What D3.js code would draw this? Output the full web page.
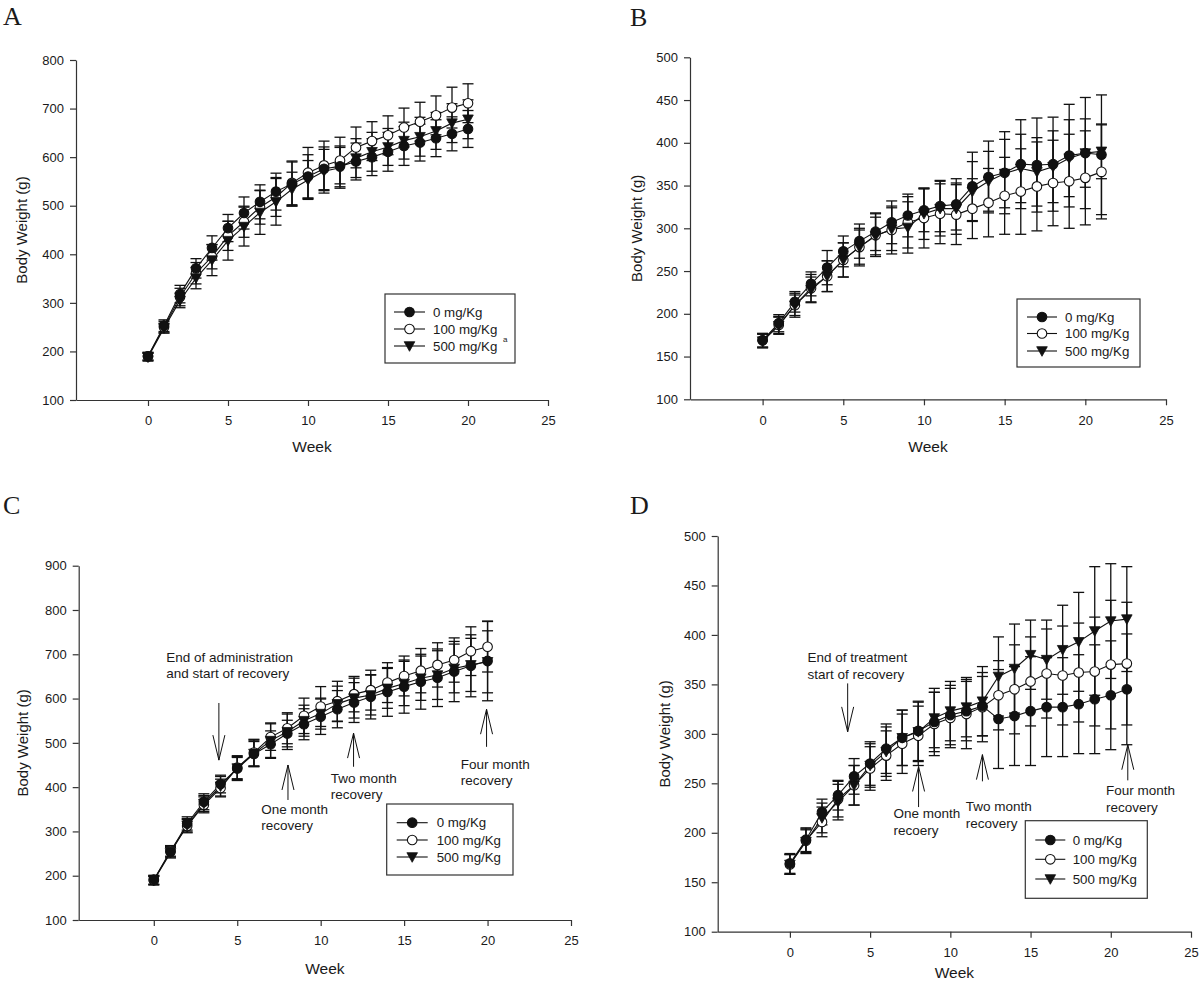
<!DOCTYPE html>
<html><head><meta charset="utf-8">
<script src="https://cdn.jsdelivr.net/npm/d3@7"></script>
<style>
body{margin:0;background:#fff}
svg{display:block}
text{font-family:"Liberation Sans",Arial,Helvetica,sans-serif;fill:#1a1a1a}
</style></head><body>
<svg id="chart" width="1200" height="985"></svg>
<script>
// ---------------- DATA ----------------
const seriesNames = ["0 mg/Kg", "100 mg/Kg", "500 mg/Kg"];
const xTicks = [0, 5, 10, 15, 20, 25];

// Panel A
const weeksA = [0,1,2,3,4,5,6,7,8,9,10,11,12,13,14,15,16,17,18,19,20];
const a0   = [190,253,318,371,413,454,485,508,529,545,560,576,581,591,600,611,623,630,639,648,658];
const a100 = [190,250,312,361,395,438,467,497,518,547,568,583,593,620,633,645,661,673,686,702,711];
const a500 = [188,248,305,351,388,428,457,486,508,534,553,571,578,598,611,621,634,642,654,670,678];
const a0sd   = [8,12,18,20,25,28,33,35,38,45,45,45,42,38,38,40,40,38,38,35,38];
const a100sd = [8,12,18,22,25,30,32,35,40,45,52,50,48,42,40,40,40,40,40,42,40];
const a500sd = [8,10,15,22,32,40,40,45,48,35,40,45,42,40,40,38,38,40,38,40,40];

// Panel B
const weeksB = [0,1,2,3,4,5,6,7,8,9,10,11,12,13,14,15,16,17,18,19,20,21];
const b0   = [169,189,214,235,254,273,285,296,307,315,321,326,328,349,360,365,375,374,375,385,388,386];
const b100 = [169,187,210,230,244,263,278,292,298,307,312,317,316,323,330,338,343,349,353,355,359,366];
const b500 = [168,186,210,228,244,263,278,291,299,301,317,323,323,343,355,364,370,366,372,382,388,390];
const b0sd   = [8,10,12,14,20,18,20,22,25,25,25,30,30,40,42,48,52,55,55,60,65,70];
const b100sd = [8,10,14,16,18,20,22,25,28,30,35,35,35,35,40,45,50,52,50,55,55,55];
const b500sd = [8,10,12,15,18,20,20,22,25,30,30,32,30,35,35,40,40,40,42,45,40,32];

// Panel C
const weeksC = [0,1,2,3,4,5,6,7,8,9,10,11,12,13,14,15,16,17,18,19,20];
const c0   = [191,254,318,367,407,442,475,497,521,542,559,576,591,604,615,627,638,647,661,674,685];
const c100 = [190,256,312,360,398,444,478,513,533,561,582,594,610,619,636,651,663,676,687,707,717];
const c500 = [189,252,314,363,402,443,476,505,525,550,566,588,601,608,623,634,646,653,668,676,683];
const c0sd   = [10,12,15,18,20,25,28,30,30,35,40,42,45,50,55,60,62,65,68,70,90];
const c100sd = [10,12,15,18,20,25,30,30,35,40,45,45,40,45,45,45,50,50,50,55,57];
const c500sd = [10,12,15,18,22,28,30,40,40,35,35,40,45,45,45,50,50,55,55,60,70];

// Panel D
const weeksD = [0,1,2,3,4,5,6,7,8,9,10,11,12,13,14,15,16,17,18,19,20,21];
const d0   = [169,193,221,238,257,270,285,296,303,312,319,323,328,315,318,323,327,327,330,335,339,345];
const d100 = [168,192,211,234,248,265,278,290,298,310,316,320,327,339,345,353,361,359,362,363,370,371];
const d500 = [168,191,215,231,248,268,282,296,302,316,323,327,333,358,366,380,375,385,393,404,414,416];
const d0sd   = [10,12,13,15,18,22,25,28,30,30,30,30,30,50,50,55,50,50,50,55,55,56];
const d100sd = [10,12,15,18,20,22,25,30,30,32,30,35,35,35,45,45,45,50,50,55,65,62];
const d500sd = [10,12,15,18,20,22,25,28,30,30,30,30,35,40,45,35,40,45,50,65,58,53];

// Annotations (week, arrow tip / tail in grams, text anchor in week / grams)
const annotC = [
  {week:3.9,  tip:461, tail:590, textWeek:0.74, textVal:682, lines:["End of administration","and start of recovery"]},
  {week:8.04, tip:450, tail:371, textWeek:6.44, textVal:339, lines:["One month","recovery"]},
  {week:11.97,tip:522, tail:446, textWeek:10.6, textVal:409, lines:["Two month","recovery"]},
  {week:19.94,tip:576, tail:491, textWeek:18.4, textVal:441, lines:["Four month","recovery"]}
];
const annotD = [
  {week:3.6,  tip:302, tail:351, textWeek:1.1,  textVal:373, lines:["End of treatment","start of recovery"]},
  {week:8.02, tip:267, tail:226, textWeek:6.46, textVal:215, lines:["One month","recoery"]},
  {week:12.0, tip:279, tail:252, textWeek:10.96,textVal:222, lines:["Two month","recovery"]},
  {week:21.06,tip:289, tail:253, textWeek:19.7, textVal:238, lines:["Four month","recovery"]}
];

// ---------------- LAYOUT ----------------
const panels = [
  {label:"A", lx:3, ly:25, left:76, right:548, top:60, bottom:400, yDomain:[100,800], yStep:100,
   weeks:weeksA, means:[a0,a100,a500], sds:[a0sd,a100sd,a500sd], ytx:22, xtDy:52, annots:[], lineH:16,
   legend:{x:385,y:294,w:130,h:69,rows:[18,35,52],l1:9,l2:40,tx:48,sup:true}},
  {label:"B", lx:630, ly:26, left:690, right:1166, top:57.3, bottom:399.3, yDomain:[100,500], yStep:50,
   weeks:weeksB, means:[b0,b100,b500], sds:[b0sd,b100sd,b500sd], ytx:637, xtDy:53, annots:[], lineH:16,
   legend:{x:1017,y:299,w:123,h:68,rows:[18,34.5,52],l1:10,l2:40,tx:48,sup:false}},
  {label:"C", lx:3, ly:514, left:78.7, right:571, top:565.7, bottom:920, yDomain:[100,900], yStep:100,
   weeks:weeksC, means:[c0,c100,c500], sds:[c0sd,c100sd,c500sd], ytx:23, xtDy:54, annots:annotC, lineH:16,
   legend:{x:386.7,y:804,w:126.3,h:71,rows:[18.7,36,53],l1:10,l2:41,tx:50,sup:false}},
  {label:"D", lx:630, ly:514, left:717.7, right:1191, top:536, bottom:931.7, yDomain:[100,500], yStep:50,
   weeks:weeksD, means:[d0,d100,d500], sds:[d0sd,d100sd,d500sd], ytx:665, xtDy:46, annots:annotD, lineH:17.3,
   legend:{x:1025.3,y:820.7,w:122,h:77.6,rows:[19.3,38.6,58.3],l1:10,l2:40,tx:47.4,sup:false}}
];

const svg = d3.select("#chart");
const ink = "#111";
const axisInk = "#333";

function marker(sel, kind, cx, cy){
  if (kind === 2) {
    sel.append("path")
      .attr("d", `M${cx-5.3},${cy-4.3}L${cx+5.3},${cy-4.3}L${cx},${cy+5.3}Z`)
      .attr("fill", ink).attr("stroke", ink).attr("stroke-width", 0.8);
  } else {
    sel.append("circle").attr("cx", cx).attr("cy", cy).attr("r", 4.8)
      .attr("fill", kind === 0 ? ink : "#fff").attr("stroke", ink).attr("stroke-width", 1.1);
  }
}

panels.forEach(p => {
  const g = svg.append("g");
  const x = d3.scaleLinear().domain([-4.5, 25]).range([p.left, p.right]);
  const y = d3.scaleLinear().domain(p.yDomain).range([p.bottom, p.top]);
  const yTicks = d3.range(p.yDomain[0], p.yDomain[1] + 1, p.yStep);

  // panel letter
  g.append("text").attr("x", p.lx).attr("y", p.ly).text(p.label)
    .style("font-family", '"Liberation Serif","Times New Roman",serif').style("font-size", "26px");

  // y axis
  const ya = g.append("g").attr("transform", `translate(${p.left},0)`)
    .call(d3.axisLeft(y).tickValues(yTicks).tickSize(6).tickPadding(6).tickSizeOuter(0));
  ya.select(".domain").attr("stroke", axisInk).attr("stroke-width", 1.2);
  ya.selectAll(".tick line").attr("stroke", axisInk).attr("stroke-width", 1.2);
  ya.selectAll(".tick text").style("font-size", "13px").attr("fill", "#1a1a1a").style("font-family", '"Liberation Sans",Arial,sans-serif');

  // x axis
  const xa = g.append("g").attr("transform", `translate(0,${p.bottom})`)
    .call(d3.axisBottom(x).tickValues(xTicks).tickSize(6).tickPadding(10).tickSizeOuter(0));
  xa.select(".domain").attr("stroke", axisInk).attr("stroke-width", 1.2);
  xa.selectAll(".tick line").attr("stroke", axisInk).attr("stroke-width", 1.2);
  xa.selectAll(".tick text").style("font-size", "13px").attr("fill", "#1a1a1a").style("font-family", '"Liberation Sans",Arial,sans-serif');

  // axis titles
  g.append("text").attr("x", (p.left + p.right) / 2).attr("y", p.bottom + p.xtDy)
    .attr("text-anchor", "middle").style("font-size", "15.5px").text("Week");
  g.append("text").attr("transform", `translate(${p.ytx},${(p.top + p.bottom) / 2}) rotate(-90)`)
    .attr("text-anchor", "middle").attr("dy", "0.35em").style("font-size", "15px").text("Body Weight (g)");

  // series lines + error bars
  const order = [1, 2, 0];
  const line = d3.line().x(d => x(d[0])).y(d => y(d[1]));
  order.forEach(s => {
    const pts = p.weeks.map((w, i) => [w, p.means[s][i]]);
    g.append("path").datum(pts).attr("d", line).attr("fill", "none").attr("stroke", ink).attr("stroke-width", 1.1);
  });
  order.forEach(s => {
    const eb = g.append("g").attr("stroke", ink).attr("stroke-width", 1.3);
    p.weeks.forEach((w, i) => {
      const cx = x(w), m = p.means[s][i], sd = p.sds[s][i];
      const yt = y(m + sd), yb = y(m - sd);
      eb.append("line").attr("x1", cx).attr("x2", cx).attr("y1", yt).attr("y2", yb);
      eb.append("line").attr("x1", cx - 5.5).attr("x2", cx + 5.5).attr("y1", yt).attr("y2", yt);
      eb.append("line").attr("x1", cx - 5.5).attr("x2", cx + 5.5).attr("y1", yb).attr("y2", yb);
    });
  });
  order.forEach(s => {
    const mg = g.append("g");
    p.weeks.forEach((w, i) => marker(mg, s, x(w), y(p.means[s][i])));
  });

  // annotations
  p.annots.forEach(a => {
    const ax = x(a.week), yTip = y(a.tip), yTail = y(a.tail);
    const dir = yTip > yTail ? 1 : -1; // 1 = pointing down
    const ag = g.append("g").attr("stroke", ink).attr("stroke-width", 1).attr("fill", "none");
    ag.append("line").attr("x1", ax).attr("x2", ax).attr("y1", yTail).attr("y2", yTip);
    ag.append("path").attr("d", `M${ax - 6},${yTip - dir * 25}L${ax},${yTip}L${ax + 6},${yTip - dir * 25}`);
    a.lines.forEach((t, k) => {
      g.append("text").attr("x", x(a.textWeek)).attr("y", y(a.textVal) + k * p.lineH)
        .style("font-size", "13.5px").text(t);
    });
  });

  // legend
  const L = p.legend;
  const lg = g.append("g").attr("transform", `translate(${L.x},${L.y})`);
  lg.append("rect").attr("width", L.w).attr("height", L.h).attr("fill", "#fff")
    .attr("stroke", axisInk).attr("stroke-width", 1.2);
  [0, 1, 2].forEach(s => {
    const ry = L.rows[s];
    lg.append("line").attr("x1", L.l1).attr("x2", L.l2).attr("y1", ry).attr("y2", ry)
      .attr("stroke", ink).attr("stroke-width", 1.1);
    marker(lg, s, (L.l1 + L.l2) / 2, ry);
    const t = lg.append("text").attr("x", L.tx).attr("y", ry).attr("dy", "0.36em")
      .style("font-size", "13.3px").text(seriesNames[s]);
    if (L.sup && s === 2) {
      lg.append("text").attr("x", L.tx + 70).attr("y", ry - 4).style("font-size", "8px").text("a");
    }
  });
});
</script>
</body></html>
